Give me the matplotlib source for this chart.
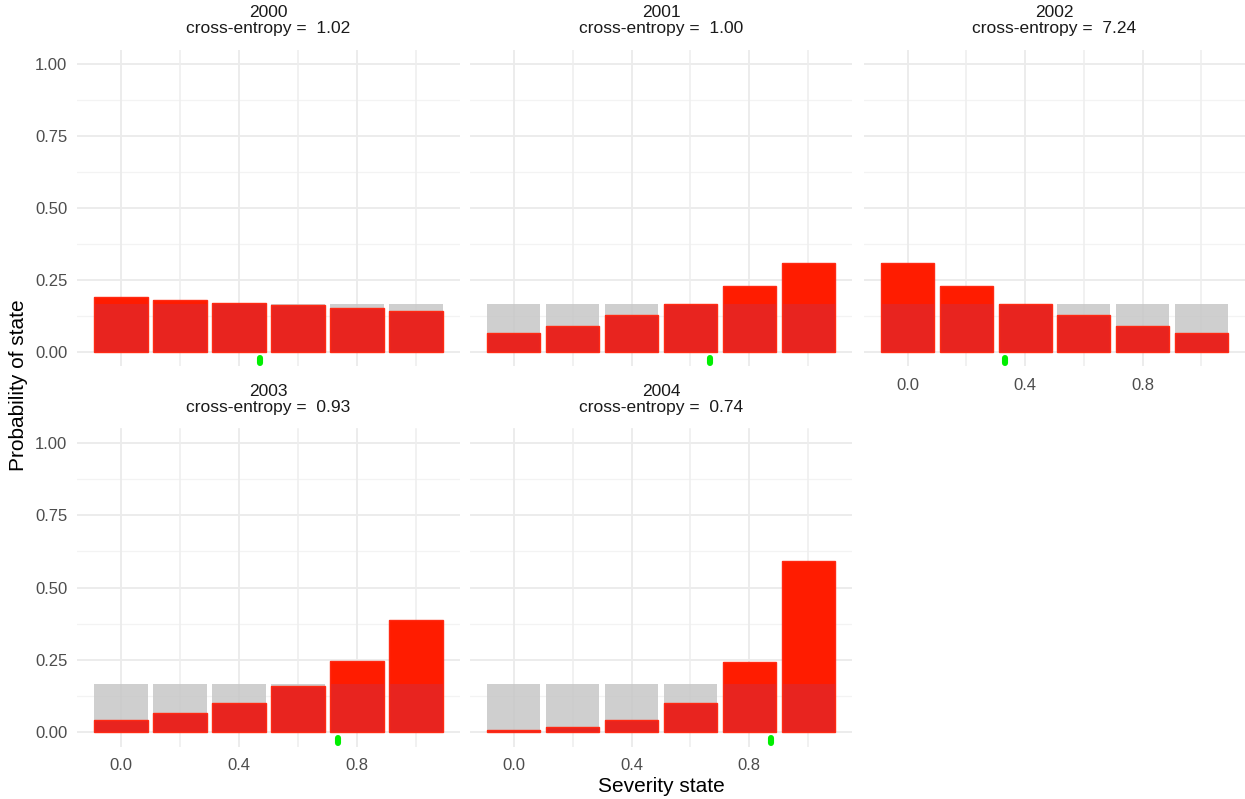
import numpy as np
import matplotlib
matplotlib.use("Agg")
import matplotlib.pyplot as plt
from matplotlib.transforms import blended_transform_factory

plt.rcParams['font.family'] = ['Liberation Sans', 'DejaVu Sans']

# Severity states and the flat prior over them
states = [0.0, 0.2, 0.4, 0.6, 0.8, 1.0]
prior = [1 / 6] * 6

years = ["2000", "2001", "2002", "2003", "2004"]
cross_entropy = [1.02, 1.00, 7.24, 0.93, 0.74]

# Posterior probability of each state per year
post_2000 = [0.192, 0.181, 0.171, 0.162, 0.153, 0.142]
post_2001 = [0.066, 0.092, 0.127, 0.167, 0.228, 0.310]
post_2002 = [0.310, 0.228, 0.167, 0.127, 0.092, 0.066]
post_2003 = [0.041, 0.067, 0.101, 0.158, 0.247, 0.388]
post_2004 = [0.006, 0.016, 0.040, 0.101, 0.241, 0.590]
posteriors = [post_2000, post_2001, post_2002, post_2003, post_2004]

# Observed severity for each year (rug mark)
observed = [0.471, 0.668, 0.332, 0.737, 0.873]

W, H = 1245, 799
fig = plt.figure(figsize=(W / 100, H / 100), dpi=100)

col_x = [(77, 460), (470, 852), (864, 1245)]
row_y = [(49.6, 366.4), (428.5, 746.5)]

grey_fill = "#c4c4c4"
red_top = "#ff1c00"
red_overlap = "#e8241f"
red_edge = "#ff2a14"
grid_major = "#ebebeb"
grid_minor = "#f3f3f3"

bar_w = 0.18

for i, year in enumerate(years):
    r, c = divmod(i, 3)
    x0, x1 = col_x[c]
    y0, y1 = row_y[r]
    ax = fig.add_axes([x0 / W, 1 - y1 / H, (x1 - x0) / W, (y1 - y0) / H])
    ax.set_xlim(-0.149, 1.149)
    ax.set_ylim(-0.05, 1.05)
    for s in ax.spines.values():
        s.set_visible(False)

    # grid
    for yv in np.arange(0.125, 1.0, 0.25):
        ax.axhline(yv, color=grid_minor, lw=0.9, zorder=0)
    for yv in [0, 0.25, 0.5, 0.75, 1.0]:
        ax.axhline(yv, color=grid_major, lw=1.3, zorder=0)
    for xv in [0.2, 0.6, 1.0]:
        ax.axvline(xv, color="#eeeeee", lw=1.1, zorder=0)
    for xv in [0.0, 0.4, 0.8]:
        ax.axvline(xv, color=grid_major, lw=1.3, zorder=0)

    post = np.array(posteriors[i])
    pri = np.array(prior)
    overlap = np.minimum(post, pri)

    ax.bar(states, pri, width=bar_w, color=grey_fill, alpha=0.8,
           linewidth=0, zorder=1)
    ax.bar(states, post, width=bar_w, color=red_top, linewidth=0, zorder=2)
    ax.bar(states, overlap, width=bar_w, color=red_overlap, linewidth=0,
           zorder=3)
    ax.bar(states, post, width=bar_w, facecolor="none", edgecolor=red_edge,
           linewidth=1.0, zorder=4)

    trans = blended_transform_factory(ax.transData, ax.transAxes)
    ax.plot([observed[i], observed[i]], [0.011, 0.027], transform=trans,
            color="#00ee00", lw=4.4, solid_capstyle="round", clip_on=False,
            zorder=5)

    ax.set_xticks([0.0, 0.4, 0.8])
    ax.set_yticks([0, 0.25, 0.5, 0.75, 1.0])
    ax.tick_params(length=0, labelsize=12, labelcolor="#4d4d4d")
    ax.tick_params(axis="y", pad=7)
    if c == 0:
        ax.set_yticklabels(["0.00", "0.25", "0.50", "0.75", "1.00"])
    else:
        ax.set_yticklabels([])
    if r == 1 or i == 2:
        ax.set_xticklabels(["0.0", "0.4", "0.8"])
        ax.tick_params(axis="x", pad=8)
    else:
        ax.set_xticklabels([])

    ax.set_title(f"{year}\ncross-entropy =  {cross_entropy[i]:.2f}",
                 fontsize=12.5, color="#1a1a1a", pad=12, linespacing=1.1)

fig.text(661 / W, 1 - 787 / H, "Severity state", ha="center", va="center",
         fontsize=15, color="black")
fig.text(19 / W, 1 - 385 / H, "Probability of state", ha="center",
         va="center", rotation=90, fontsize=15, color="black")

fig.savefig("out.png", dpi=100, facecolor="white")
